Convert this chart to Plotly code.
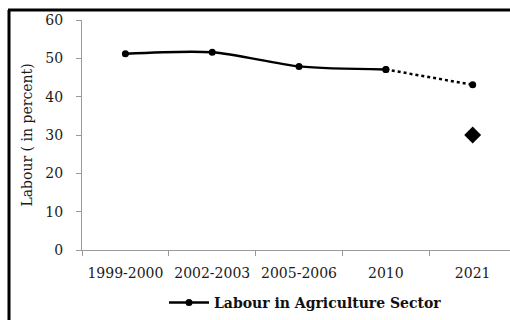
import plotly.graph_objects as go

# Share of labour employed in agriculture (percent)
periods = ["1999-2000", "2002-2003", "2005-2006", "2010", "2021"]
labour_share = [51.2, 51.6, 47.9, 47.1, 43.1]
target_2021 = 30.0

FONT = "DejaVu Serif"
AXIS_GREY = "#9a9a9a"

fig = go.Figure()

# Observed values: solid smoothed line up to 2010
fig.add_trace(go.Scatter(
    x=periods[:4], y=labour_share[:4],
    mode="lines+markers",
    line=dict(color="black", width=2.5, shape="spline", smoothing=0.8),
    marker=dict(color="black", size=7, symbol="circle"),
    name="Labour in Agriculture Sector",
    showlegend=True,
))

# Projection from 2010 to 2021: dotted
fig.add_trace(go.Scatter(
    x=periods[3:], y=labour_share[3:],
    mode="lines+markers",
    line=dict(color="black", width=2.5, dash="dot"),
    marker=dict(color="black", size=7, symbol="circle"),
    showlegend=False,
))

# 2021 target value
fig.add_trace(go.Scatter(
    x=[periods[4]], y=[target_2021],
    mode="markers",
    marker=dict(color="black", size=13, symbol="diamond"),
    showlegend=False,
))

# Outer frame (left and top edges visible in the window)
fig.add_shape(type="line", xref="paper", yref="paper",
              x0=(9 - 82) / 428, x1=(9 - 82) / 428, y0=1.0435, y1=-0.40,
              line=dict(color="black", width=3))
fig.add_shape(type="line", xref="paper", yref="paper",
              x0=(8 - 82) / 428, x1=1.05, y0=1.0435, y1=1.0435,
              line=dict(color="black", width=3))

fig.update_layout(
    width=510, height=320,
    margin=dict(l=82, r=0, t=20, b=70),
    paper_bgcolor="white", plot_bgcolor="white",
    font=dict(family=FONT, color="#1a1a1a", size=14),
    showlegend=True,
    legend=dict(
        x=(164 - 82) / 428, xanchor="left",
        y=-0.30, yanchor="bottom",
        orientation="h",
        itemwidth=40,
        font=dict(family=FONT, size=14, color="#111111", weight="bold"),
        bgcolor="rgba(0,0,0,0)",
    ),
    xaxis=dict(
        type="category",
        range=[-0.5, 4.43],
        showline=True, linecolor=AXIS_GREY, linewidth=1,
        ticks="outside", tickcolor=AXIS_GREY, ticklen=5, tickwidth=1,
        tickson="boundaries",
        showgrid=False, zeroline=False,
        tickfont=dict(family=FONT, size=14, color="#1a1a1a"),
        ticklabelstandoff=10,
    ),
    yaxis=dict(
        range=[0, 60], dtick=10,
        showline=True, linecolor=AXIS_GREY, linewidth=1,
        ticks="outside", tickcolor=AXIS_GREY, ticklen=5, tickwidth=1,
        showgrid=False, zeroline=False,
        tickfont=dict(family=FONT, size=14, color="#1a1a1a"),
        ticklabelstandoff=10,
        title=dict(text="Labour ( in percent)", standoff=9,
                   font=dict(family=FONT, size=14, color="#1a1a1a")),
    ),
)

fig.write_html("out.html")
